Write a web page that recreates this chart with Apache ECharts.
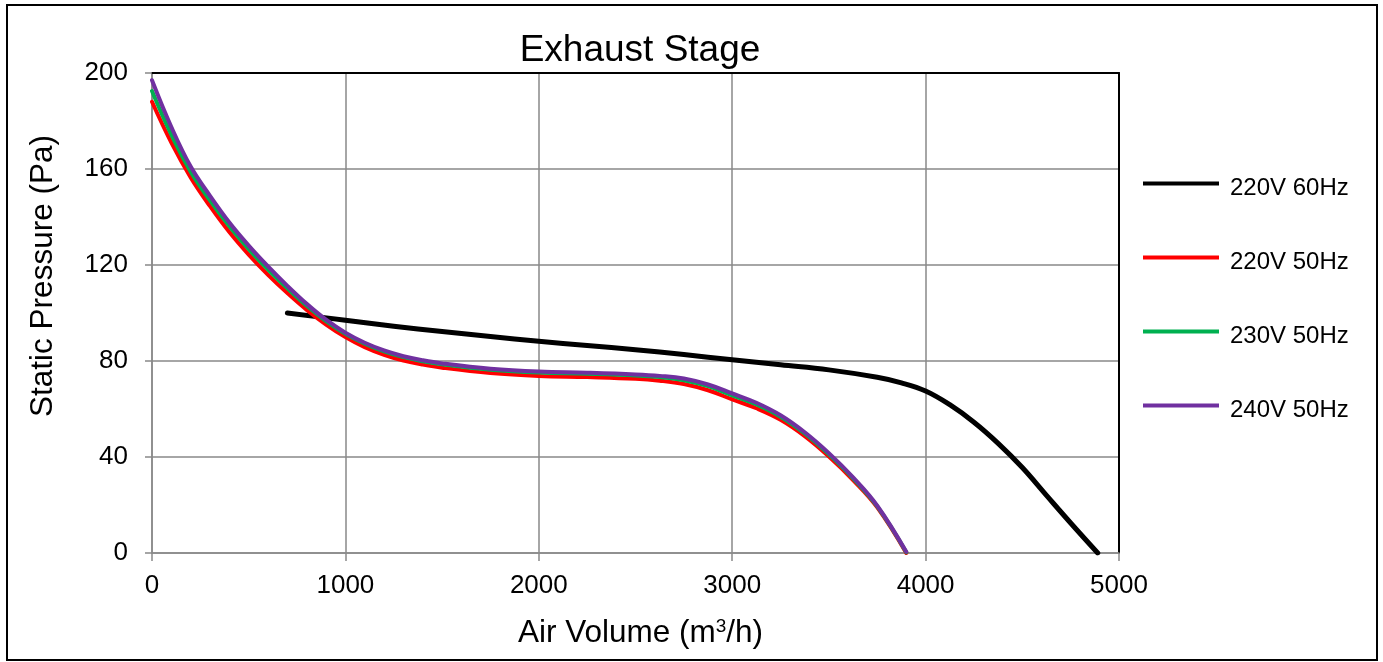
<!DOCTYPE html>
<html>
<head>
<meta charset="utf-8">
<script src="https://cdn.jsdelivr.net/npm/echarts@6/dist/echarts.min.js"></script>
<style>html,body{margin:0;padding:0;background:#fff}#c{width:1383px;height:662px}</style>
</head>
<body>
<div id="c"></div>
<script>
var seriesNames = ['220V 60Hz', '220V 50Hz', '230V 50Hz', '240V 50Hz'];
var xTicks = [0, 1000, 2000, 3000, 4000, 5000];
var yTicks = [0, 40, 80, 120, 160, 200];

var x60 = [700, 1000, 1250, 1500, 1750, 2000, 2250, 2500, 2750, 3000, 3250, 3500, 3750, 3875, 4000, 4125, 4250, 4375, 4500, 4625, 4750, 4890];
var y60 = [100, 97, 94.5, 92.3, 90.2, 88.2, 86.5, 84.7, 82.7, 80.5, 78.4, 76.3, 73.2, 70.9, 67.5, 61.8, 54.5, 45.7, 35.6, 24, 12.5, 0];

var x50 = [0, 100, 200, 300, 400, 500, 600, 700, 800, 900, 1000, 1100, 1200, 1300, 1400, 1500, 1750, 2000, 2250, 2500, 2625, 2750, 2875, 3000, 3125, 3250, 3375, 3500, 3625, 3750, 3900];
var y220 = [188, 171, 156.5, 144.5, 133.7, 124.3, 115.9, 108.3, 101.3, 95.2, 90, 85.8, 82.6, 80.2, 78.5, 77.2, 75, 73.8, 73.3, 72.6, 71.8, 70.4, 67.8, 64, 60.3, 55.5, 48.7, 40.2, 30.4, 19, 0];
var y230 = [192.5, 174.3, 158.9, 146.9, 136.1, 126.6, 118.1, 110.3, 103, 96.6, 91.3, 87.2, 84, 81.6, 79.9, 78.6, 76.4, 75.2, 74.7, 74, 73.3, 72, 69.5, 65.7, 61.9, 56.8, 49.8, 41.1, 31.1, 19.4, 0.3];
var y240 = [197, 177.5, 161, 148.8, 137.7, 128.1, 119.4, 111.3, 103.8, 97.2, 91.8, 87.6, 84.4, 82, 80.3, 79, 76.8, 75.6, 75.1, 74.4, 73.8, 72.7, 70.2, 66.5, 62.6, 57.4, 50.3, 41.6, 31.5, 19.7, 0.5];

var colors = ['#000000', '#FF0000', '#00B050', '#7030A0'];
var widths = [5, 4, 4, 4];

function pairs(xs, ys) { return xs.map(function (x, i) { return [x, ys[i]]; }); }
var seriesData = [pairs(x60, y60), pairs(x50, y220), pairs(x50, y230), pairs(x50, y240)];

var FONT = "'Liberation Sans', Arial, sans-serif";
var gridColor = '#898989';

var chart = echarts.init(document.getElementById('c'), null, { renderer: 'canvas' });
chart.setOption({
  animation: false,
  backgroundColor: '#ffffff',
  textStyle: { fontFamily: FONT },
  title: {
    text: 'Exhaust Stage',
    left: 635, top: 27, textAlign: 'center',
    textStyle: { fontFamily: FONT, fontSize: 37, fontWeight: 'normal', color: '#000' }
  },
  legend: {
    orient: 'vertical',
    left: 1143, top: 174, padding: 0,
    itemWidth: 76, itemHeight: 13, itemGap: 46,
    icon: 'path://M0 0H76V4H0Z M0 12.99H0.01V13H0Z',
    data: seriesNames,
    textStyle: { fontFamily: FONT, fontSize: 24, color: '#000', lineHeight: 28, padding: [0, 0, 0, 6] }
  },
  grid: { left: 152, top: 73, right: 264, bottom: 109, containLabel: false },
  xAxis: [{
    type: 'value', min: 0, max: 5000, interval: 1000,
    name: 'Air Volume (m{sup|3}/h)', nameLocation: 'middle', nameGap: 64,
    nameTextStyle: { fontFamily: FONT, fontSize: 31.5, color: '#000', padding: [0, 0, 0, 10],
      rich: { sup: { fontFamily: FONT, fontSize: 19, color: '#000', verticalAlign: 'top', padding: [0, 0, 11, 0] } } },
    axisLine: { show: true, lineStyle: { color: gridColor, width: 1.5 } },
    axisTick: { show: true, length: 8, lineStyle: { color: gridColor, width: 1.5 } },
    axisLabel: { margin: 20, fontFamily: FONT, fontSize: 26, color: '#000',
      formatter: function (v) { return xTicks.indexOf(v) >= 0 ? String(v) : ''; } },
    splitLine: { show: true, lineStyle: { color: gridColor, width: 1.5 } }
  }, {
    type: 'value', min: 0, max: 5000, position: 'top',
    axisLine: { show: true, onZero: false, lineStyle: { color: '#000', width: 2 } },
    axisTick: { show: false }, axisLabel: { show: false }, splitLine: { show: false }
  }],
  yAxis: [{
    type: 'value', min: 0, max: 200, interval: 40,
    name: 'Static Pressure (Pa)', nameLocation: 'middle', nameGap: 93, nameRotate: 90,
    nameTextStyle: { fontFamily: FONT, fontSize: 31.5, color: '#000', padding: [0, 0, 0, 74] },
    axisLine: { show: true, lineStyle: { color: gridColor, width: 1.5 } },
    axisTick: { show: true, length: 7, lineStyle: { color: gridColor, width: 1.5 } },
    axisLabel: { margin: 24, fontFamily: FONT, fontSize: 26, color: '#000',
      formatter: function (v) { return yTicks.indexOf(v) >= 0 ? String(v) : ''; } },
    splitLine: { show: true, lineStyle: { color: gridColor, width: 1.5 } }
  }, {
    type: 'value', min: 0, max: 200, position: 'right',
    axisLine: { show: true, onZero: false, lineStyle: { color: '#000', width: 2 } },
    axisTick: { show: false }, axisLabel: { show: false }, splitLine: { show: false }
  }],
  graphic: [{
    type: 'rect', silent: true, z: -10,
    shape: { x: 7, y: 5, width: 1370, height: 655 },
    style: { fill: 'none', stroke: '#000', lineWidth: 2 }
  }],
  series: seriesNames.map(function (n, i) {
    return {
      name: n, type: 'line', xAxisIndex: 0, yAxisIndex: 0,
      data: seriesData[i], smooth: 0.4, showSymbol: false, symbol: 'none',
      color: colors[i],
      lineStyle: { color: colors[i], width: widths[i], cap: 'round', join: 'round' },
      z: 2 + i
    };
  })
});
</script>
</body>
</html>
